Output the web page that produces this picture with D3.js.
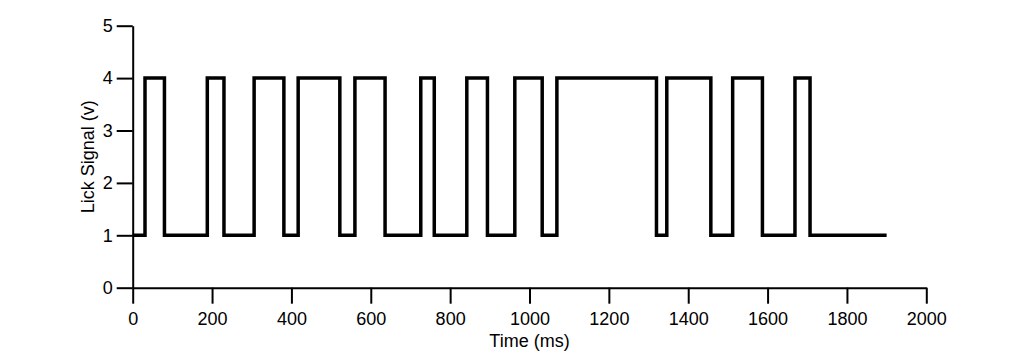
<!DOCTYPE html>
<html>
<head>
<meta charset="utf-8">
<script src="https://cdn.jsdelivr.net/npm/d3@7"></script>
<style>
  body { margin: 0; background: #fff; }
  text { font-family: "Liberation Sans", Arial, sans-serif; }
</style>
</head>
<body>
<svg width="1024" height="352"></svg>
<script>
// edge times (ms) and the level held from each time on
const times = [0, 31, 80, 188, 230, 306, 381, 417, 522, 560, 636, 726, 760, 842, 894, 963, 1032, 1069, 1320, 1346, 1457, 1512, 1587, 1669, 1707, 1900];
const levels = [1, 4, 1, 4, 1, 4, 1, 4, 1, 4, 1, 4, 1, 4, 1, 4, 1, 4, 1, 4, 1, 4, 1, 4, 1, 1];
const xTicks = [0, 200, 400, 600, 800, 1000, 1200, 1400, 1600, 1800, 2000];
const yTicks = [0, 1, 2, 3, 4, 5];

const svg = d3.select('svg');

const x = d3.scaleLinear().domain([0, 2000]).range([132.7, 926.3]);
const y = d3.scaleLinear().domain([0, 5]).range([287.7, 25.7]);

const data = times.map((t, i) => ({ t, v: levels[i] }));

// axes
const xAxis = svg.append('g')
  .attr('transform', `translate(0, ${y(0)})`)
  .call(d3.axisBottom(x).tickValues(xTicks).tickSize(16).tickSizeOuter(0).tickPadding(9).tickFormat(d3.format('d')));

const yAxis = svg.append('g')
  .attr('transform', `translate(${x(0)}, 0)`)
  .call(d3.axisLeft(y).tickValues(yTicks).tickSize(16).tickSizeOuter(0).tickPadding(4).tickFormat(d3.format('d')));

[xAxis, yAxis].forEach((g) => {
  g.selectAll('path, line').attr('stroke', '#000').style('stroke-width', '2px');
  g.selectAll('text')
    .attr('fill', '#000')
    .style('font-size', '18px')
    .style('font-family', '"Liberation Sans", Arial, sans-serif');
});

// the lick trace
const line = d3.line()
  .x((d) => x(d.t))
  .y((d) => y(d.v))
  .curve(d3.curveStepAfter);

svg.append('path')
  .datum(data)
  .attr('fill', 'none')
  .attr('stroke', '#000')
  .style('stroke-width', '3.5px')
  .attr('stroke-linejoin', 'miter')
  .attr('d', line);

// axis titles
svg.append('text')
  .attr('x', x(1000))
  .attr('y', 347)
  .attr('text-anchor', 'middle')
  .style('font-size', '18px')
  .text('Time (ms)');

svg.append('text')
  .attr('transform', `translate(94, ${y(2.5)}) rotate(-90)`)
  .attr('text-anchor', 'middle')
  .style('font-size', '18px')
  .text('Lick Signal (v)');
</script>
</body>
</html>
